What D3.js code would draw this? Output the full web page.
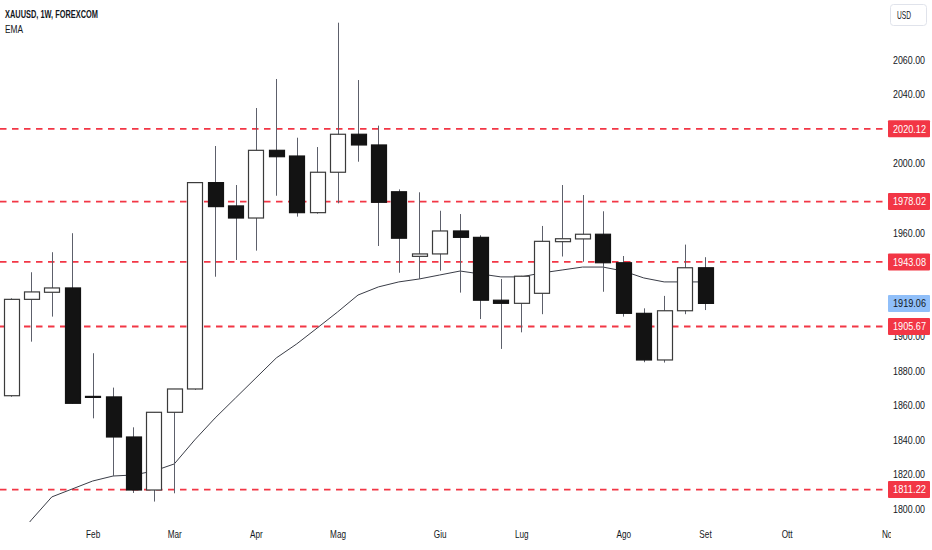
<!DOCTYPE html>
<html>
<head>
<meta charset="utf-8">
<script src="https://cdn.jsdelivr.net/npm/d3@7"></script>
<style>
    html, body { margin: 0; padding: 0; background: #fff; }
    svg { display: block; font-family: "Liberation Sans", Arial, sans-serif; }
</style>
</head>
<body>
<svg id="chart"></svg>
<script>
// settimane (lunedi) XAUUSD 1W
var weeks = ["2023-01-09", "2023-01-16", "2023-01-23", "2023-01-30", "2023-02-06", "2023-02-13", "2023-02-20",
    "2023-02-27", "2023-03-06", "2023-03-13", "2023-03-20", "2023-03-27", "2023-04-03", "2023-04-10", "2023-04-17",
    "2023-04-24", "2023-05-01", "2023-05-08", "2023-05-15", "2023-05-22", "2023-05-29", "2023-06-05", "2023-06-12",
    "2023-06-19", "2023-06-26", "2023-07-03", "2023-07-10", "2023-07-17", "2023-07-24", "2023-07-31", "2023-08-07",
    "2023-08-14", "2023-08-21", "2023-08-28", "2023-09-04"];

var open = [1865.6, 1921.4, 1925.5, 1928.0, 1865.2, 1864.9, 1841.7, 1811.0, 1856.0, 1869.5, 1989.0, 1975.5,
    1968.5, 2007.7, 2004.4, 1971.6, 1995.0, 2017.0, 2010.8, 1983.7, 1946.3, 1947.7, 1961.0, 1957.3, 1920.9,
    1919.1, 1924.9, 1954.8, 1956.4, 1959.1, 1942.6, 1913.3, 1886.3, 1914.8, 1939.7];
var high = [1922.0, 1937.1, 1948.7, 1959.7, 1890.2, 1870.3, 1847.3, 1856.0, 1869.5, 1989.0, 2010.2, 1987.6,
    2032.2, 2049.0, 2015.0, 2009.6, 2081.6, 2048.4, 2022.0, 1985.1, 1983.4, 1972.7, 1970.8, 1958.5, 1933.2,
    1935.0, 1963.9, 1987.6, 1981.8, 1972.4, 1946.5, 1916.2, 1923.4, 1953.1, 1945.8];
var low = [1865.0, 1896.9, 1911.4, 1861.0, 1852.5, 1819.1, 1809.3, 1804.3, 1809.1, 1869.0, 1934.5, 1944.2,
    1949.6, 1981.4, 1969.3, 1971.0, 1977.0, 2001.1, 1952.3, 1936.8, 1933.2, 1938.0, 1925.3, 1910.0, 1892.7,
    1902.3, 1912.8, 1946.2, 1943.2, 1925.8, 1911.4, 1885.0, 1884.8, 1912.8, 1915.2];
var close = [1921.4, 1925.7, 1928.0, 1861.2, 1864.9, 1841.7, 1811.0, 1856.0, 1869.5, 1989.0, 1975.1, 1968.5,
    2007.7, 2004.0, 1971.6, 1995.0, 2017.0, 2010.8, 1977.6, 1956.8, 1947.7, 1961.0, 1957.3, 1920.9, 1919.1,
    1934.8, 1955.0, 1956.5, 1959.1, 1942.6, 1913.3, 1886.3, 1914.8, 1939.7, 1919.06];
var ema = [1779.2, 1793.7, 1807.0, 1811.6, 1816.2, 1819.1, 1819.7, 1822.0, 1826.1, 1840.0, 1852.7, 1864.3,
    1875.9, 1887.5, 1895.6, 1904.8, 1914.1, 1923.9, 1928.6, 1931.5, 1933.2, 1935.5, 1937.8, 1936.1, 1934.4,
    1934.4, 1936.7, 1938.4, 1940.1, 1940.1, 1937.8, 1933.8, 1931.5, 1931.5, 1931.5];

var monthWeeks = ["2023-02-06", "2023-03-06", "2023-04-03", "2023-05-01", "2023-06-05", "2023-07-03",
    "2023-08-07", "2023-09-04", "2023-10-02", "2023-11-06"];
var monthLabels = ["Feb", "Mar", "Apr", "Mag", "Giu", "Lug", "Ago", "Set", "Ott", "Nov"];
var priceTicks = [1800, 1820, 1840, 1860, 1880, 1900, 1920, 1940, 1960, 1980, 2000, 2020, 2040, 2060];
var levels = [2020.12, 1978.02, 1943.08, 1905.67, 1811.22];
var lastPrice = 1919.06;

var W = 932, H = 550;
var paneW = 888, paneH = 522;
var textColor = "#131722";
var red = "#f23645";

var parse = d3.utcParse("%Y-%m-%d");
var fmt = d3.format(".2f");
var bars = weeks.map(function(w, i) {
    return { t: parse(w), o: open[i], h: high[i], l: low[i], c: close[i], e: ema[i] };
});

// il font di TradingView e' stretto: comprimo in orizzontale
function squeeze(sel, k) {
    sel.each(function() {
        var n = this.getComputedTextLength();
        d3.select(this).attr("textLength", n * k).attr("lengthAdjust", "spacingAndGlyphs");
    });
}

var svg = d3.select("#chart").attr("width", W).attr("height", H);

var xScale = d3.scaleUtc()
    .domain([parse(weeks[0]), parse(weeks[weeks.length - 1])])
    .range([11, 705]);
var yScale = d3.scaleLinear()
    .domain([1800, 2060])
    .range([509, 60]);

svg.append("clipPath").attr("id", "pane")
    .append("rect").attr("width", paneW).attr("height", paneH);

var pane = svg.append("g").attr("clip-path", "url(#pane)");

// livelli orizzontali tratteggiati
pane.selectAll(".level").data(levels).enter().append("line")
    .attr("x1", 0).attr("x2", paneW)
    .attr("y1", function(d) { return yScale(d); })
    .attr("y2", function(d) { return yScale(d); })
    .attr("stroke", red)
    .attr("stroke-width", 1.8)
    .attr("stroke-dasharray", "6.5,5.5");

// EMA
pane.append("path")
    .datum(bars)
    .attr("fill", "none")
    .attr("stroke", "#3a3d47")
    .attr("stroke-width", 1)
    .attr("d", d3.line()
        .x(function(d) { return xScale(d.t); })
        .y(function(d) { return yScale(d.e); }));

// candele
var candle = pane.selectAll(".candle").data(bars).enter().append("g");

candle.append("line")
    .attr("x1", function(d) { return Math.round(xScale(d.t)) + 0.5; })
    .attr("x2", function(d) { return Math.round(xScale(d.t)) + 0.5; })
    .attr("y1", function(d) { return yScale(d.h); })
    .attr("y2", function(d) { return yScale(d.l); })
    .attr("stroke", "#5d606b")
    .attr("stroke-width", 1);

var bodyW = 15;
candle.append("rect")
    .attr("x", function(d) { return Math.round(xScale(d.t) - bodyW / 2) + 0.5; })
    .attr("y", function(d) { return yScale(Math.max(d.o, d.c)); })
    .attr("width", bodyW)
    .attr("height", function(d) { return Math.max(1, Math.abs(yScale(d.o) - yScale(d.c))); })
    .attr("fill", function(d) { return d.c >= d.o ? "#ffffff" : "#131313"; })
    .attr("stroke", function(d) { return d.c >= d.o ? "#3b3b3b" : "#131313"; })
    .attr("stroke-width", 1.2);

// titolo
svg.append("text")
    .attr("x", 5).attr("y", 18)
    .attr("font-size", 10.5).attr("font-weight", "bold")
    .attr("fill", textColor)
    .attr("textLength", 93).attr("lengthAdjust", "spacingAndGlyphs")
    .text("XAUUSD, 1W, FOREXCOM");
svg.append("text")
    .attr("x", 5).attr("y", 33)
    .attr("font-size", 10.5)
    .attr("fill", textColor)
    .attr("textLength", 18).attr("lengthAdjust", "spacingAndGlyphs")
    .text("EMA");

// asse prezzi: nascondo le tacche coperte dalle etichette
var tagValues = levels.concat([lastPrice]);
var freeTicks = priceTicks.filter(function(t) {
    return tagValues.every(function(v) { return Math.abs(yScale(t) - yScale(v)) > 8.5; });
});
var yAxis = svg.append("g")
    .attr("transform", "translate(" + paneW + ",0)")
    .call(d3.axisRight(yScale).tickValues(freeTicks).tickSize(0).tickPadding(5).tickFormat(fmt));
yAxis.select(".domain").remove();
yAxis.selectAll("text")
    .attr("font-size", 10.5)
    .attr("font-family", null)
    .attr("fill", textColor)
    .attr("textLength", 32).attr("lengthAdjust", "spacingAndGlyphs");

// etichette dei livelli
var tags = levels.map(function(v) { return { v: v, bg: red, fg: "#ffffff" }; });
tags.push({ v: lastPrice, bg: "#90bff9", fg: textColor });

var tag = svg.selectAll(".tag").data(tags).enter().append("g")
    .attr("transform", function(d) { return "translate(888," + yScale(d.v) + ")"; });
tag.append("rect")
    .attr("x", 0).attr("y", -8.5)
    .attr("width", 42).attr("height", 17)
    .attr("rx", 1)
    .attr("fill", function(d) { return d.bg; });
tag.append("text")
    .attr("x", 5).attr("dy", "0.35em")
    .attr("font-size", 10.5)
    .attr("fill", function(d) { return d.fg; })
    .attr("textLength", 33).attr("lengthAdjust", "spacingAndGlyphs")
    .text(function(d) { return fmt(d.v); });

// pulsante valuta
svg.append("rect")
    .attr("x", 890.5).attr("y", 4.5)
    .attr("width", 36).attr("height", 21)
    .attr("rx", 3)
    .attr("fill", "#fff")
    .attr("stroke", "#e0e3eb");
svg.append("text")
    .attr("x", 897).attr("y", 19)
    .attr("font-size", 10.5)
    .attr("fill", textColor)
    .attr("textLength", 14).attr("lengthAdjust", "spacingAndGlyphs")
    .text("USD");

// asse tempo (tagliato al bordo del pannello)
svg.append("clipPath").attr("id", "timeclip")
    .append("rect").attr("y", paneH).attr("width", 891).attr("height", H - paneH);
var xAxis = svg.append("g")
    .attr("clip-path", "url(#timeclip)")
    .append("g")
    .attr("transform", "translate(0," + paneH + ")")
    .call(d3.axisBottom(xScale)
        .tickValues(monthWeeks.map(parse))
        .tickSize(0).tickPadding(9)
        .tickFormat(function(d, i) { return monthLabels[i]; }));
xAxis.select(".domain").remove();
xAxis.selectAll("text")
    .attr("font-size", 10.5)
    .attr("font-family", null)
    .attr("fill", textColor)
    .call(squeeze, 0.78);
</script>
</body>
</html>
